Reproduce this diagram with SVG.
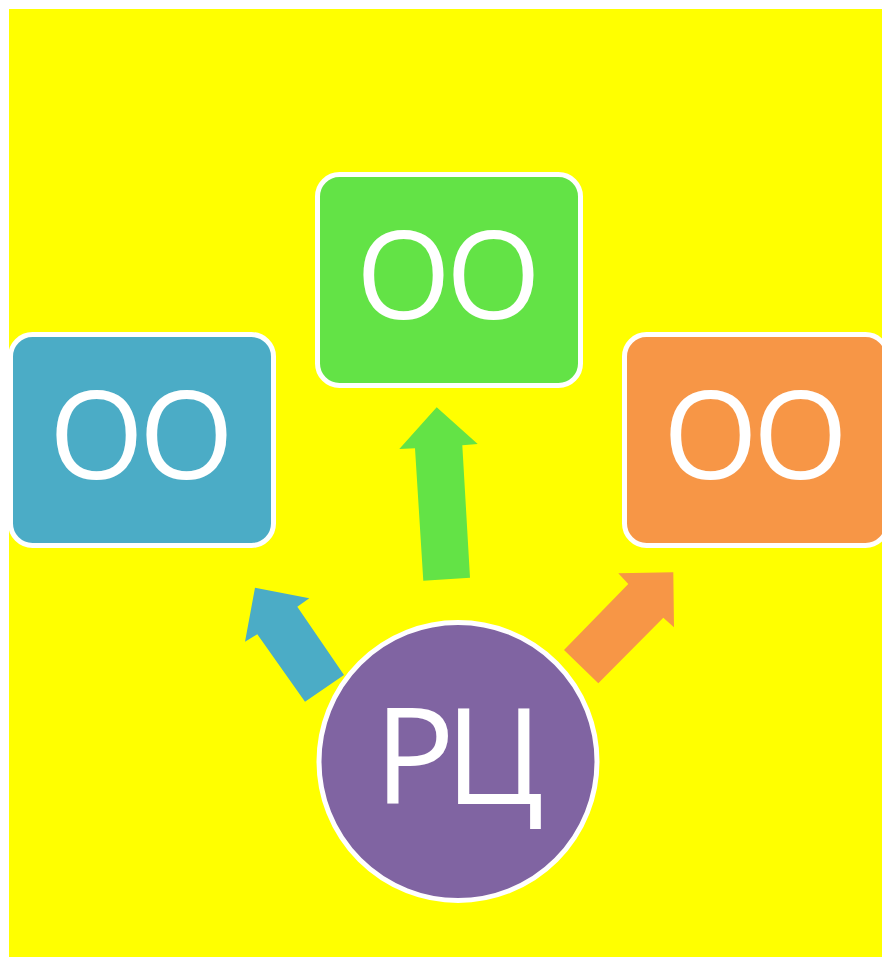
<svg xmlns="http://www.w3.org/2000/svg" width="882" height="957" viewBox="0 0 882 957">
<style>
.box{stroke:#fff;stroke-width:5}
.lbl{font-family:"Open Sans","Noto Sans","DejaVu Sans",sans-serif;fill:#fff;text-anchor:middle}
.o{font-size:122px;letter-spacing:-5px}
.r{font-size:134px;letter-spacing:-10px}
</style>
<rect x="0" y="0" width="882" height="957" fill="#fff"/>
<rect x="9" y="9" width="873" height="948" fill="#ffff00"/>
<g id="connectors">
<polygon points="423.3,580.7 470,577.7 462.3,445.3 477.7,444 436.7,407.3 399.3,449 415,448.3" fill="#63e346"/>
<polygon points="305,701.7 344,675 297.3,606.7 309.3,598.3 255,587.7 245,641.7 257.3,634.3" fill="#4bacc6"/>
<polygon points="598.3,683.3 564,650 628.3,584 618.3,573.3 673.3,572.3 674,627.3 663.3,617.7" fill="#f79646"/>
</g>
<g id="node-left">
<rect class="box" x="10.5" y="334.5" width="263" height="211" rx="22" fill="#4bacc6"/>
<text class="lbl o" x="139" y="479">OO</text>
</g>
<g id="node-top">
<rect class="box" x="317.5" y="174.5" width="263" height="211" rx="22" fill="#63e346"/>
<text class="lbl o" x="446" y="319">OO</text>
</g>
<g id="node-right">
<rect class="box" x="624.5" y="334.5" width="263" height="211" rx="22" fill="#f79646"/>
<text class="lbl o" x="753" y="479">OO</text>
</g>
<g id="node-center">
<circle class="box" cx="458" cy="761.5" r="139" fill="#8064a2"/>
<text class="lbl r" x="454" y="804">РЦ</text>
</g>
</svg>
